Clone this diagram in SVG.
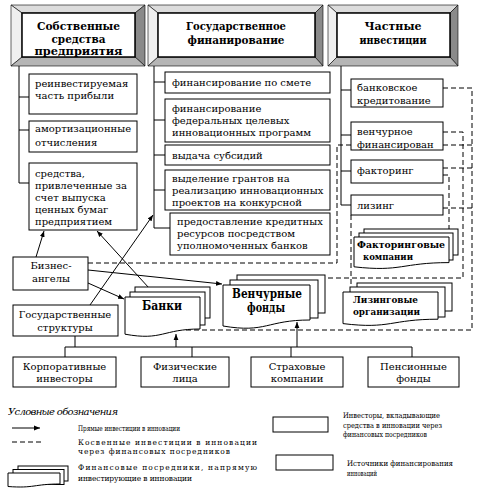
<svg xmlns="http://www.w3.org/2000/svg" width="485" height="488" viewBox="0 0 485 488">
<style>
text{font-family:"DejaVu Serif","Liberation Serif",serif;fill:#000}
.t{font-size:10px}
.h{font-size:11px;font-weight:bold;text-anchor:middle}
.b{font-size:12px;font-weight:bold}
.c{text-anchor:middle}
.lg{font-size:7.5px}
.box{fill:#fff;stroke:#000;stroke-width:1}
.ln{fill:none;stroke:#000;stroke-width:1}
.ds{fill:none;stroke:#000;stroke-width:1;stroke-dasharray:5,3}
.bt{fill:#dcdcdc;stroke:#000;stroke-width:0.6}
.bl{fill:#efefef;stroke:#000;stroke-width:0.6}
.br{fill:#8a8a8a;stroke:#000;stroke-width:0.6}
.bb{fill:#b5b5b5;stroke:#000;stroke-width:0.6}
.in{fill:#fff;stroke:#000;stroke-width:1.5}
</style>
<defs>
<marker id="arr" viewBox="0 0 10 10" refX="10" refY="5" markerWidth="6" markerHeight="6" orient="auto"><path d="M0,1 L10,5 L0,9 z" fill="#000"/></marker>
</defs>
<rect width="485" height="488" fill="#fff"/>

<!-- header frames -->
<g id="own-funds">
<polygon class="bt" points="11,5 145,5 135,13 22,13"/>
<polygon class="bl" points="11,5 22,13 22,57 11,66"/>
<polygon class="br" points="145,5 145,66 135,57 135,13"/>
<polygon class="bb" points="11,66 22,57 135,57 145,66"/>
<rect class="in" x="22" y="13" width="113" height="44"/>
<text class="h" x="78.5" y="29.5" textLength="83" lengthAdjust="spacingAndGlyphs">Собственные</text>
<text class="h" x="78.5" y="42.5" textLength="54" lengthAdjust="spacingAndGlyphs">средства</text>
<text class="h" x="78.5" y="55" textLength="88" lengthAdjust="spacingAndGlyphs">предприятия</text>
</g>
<g id="state-funding">
<polygon class="bt" points="148,5 323,5 315,13 158,13"/>
<polygon class="bl" points="148,5 158,13 158,57 148,66"/>
<polygon class="br" points="323,5 323,66 315,57 315,13"/>
<polygon class="bb" points="148,66 158,57 315,57 323,66"/>
<rect class="in" x="158" y="13" width="157" height="44"/>
<text class="h" x="236" y="29.5" textLength="100" lengthAdjust="spacingAndGlyphs">Государственное</text>
<text class="h" x="236" y="44" textLength="97" lengthAdjust="spacingAndGlyphs">финанирование</text>
</g>
<g id="private-inv">
<polygon class="bt" points="328,5 458,5 450,13 337,13"/>
<polygon class="bl" points="328,5 337,13 337,57 328,66"/>
<polygon class="br" points="458,5 458,66 450,57 450,13"/>
<polygon class="bb" points="328,66 337,57 450,57 458,66"/>
<rect class="in" x="337" y="13" width="113" height="44"/>
<text class="h" x="393" y="29.5" textLength="57" lengthAdjust="spacingAndGlyphs">Частные</text>
<text class="h" x="393" y="44" textLength="67" lengthAdjust="spacingAndGlyphs">инвестиции</text>
</g>

<!-- connectors -->
<g id="connectors">
<path class="ln" d="M19,66 V183 M19,97 H29 M19,130 H29 M19,183 H29"/>
<path class="ln" d="M154,66 V228 H170 M154,82 H165 M154,120 H165 M154,155 H165 M154,190 H165"/>
<path class="ln" d="M341,66 V205 M341,90 H351 M341,135 H351 M341,171 H351 M341,205 H351"/>
<polyline class="ds" points="443,88 472,88 472,330 183,330"/>
<polyline class="ds" points="443,132 463,132 463,278 325,278"/>
<polyline class="ds" points="351,145 337,145 337,263 88,263"/>
<polyline class="ds" points="443,145 472,145"/>
<polyline class="ds" points="443,168 472,168"/>
<polyline class="ds" points="443,175 449,175 449,229"/>
<polyline class="ds" points="443,208 472,208"/>
<polyline class="ds" points="351,215 351,287"/>
<line class="ln" x1="36" y1="257" x2="44" y2="231" marker-end="url(#arr)"/>
<line class="ln" x1="149" y1="288" x2="97" y2="231" marker-end="url(#arr)"/>
<line class="ln" x1="90" y1="305" x2="153" y2="215" marker-end="url(#arr)"/>
<line class="ln" x1="88" y1="283" x2="124" y2="299" marker-end="url(#arr)"/>
<line class="ln" x1="88" y1="270" x2="222" y2="284" marker-end="url(#arr)"/>
<path class="ln" d="M65,357 V347 H412 V357 M192,347 V357 M291,347 V357 M75,336 V347"/>
<line class="ln" x1="176" y1="347" x2="176" y2="334" marker-end="url(#arr)"/>
<line class="ln" x1="297" y1="347" x2="297" y2="322" marker-end="url(#arr)"/>
</g>

<!-- own funds items -->
<g id="reinvest">
<rect class="box" x="29" y="74" width="108" height="40"/>
<text class="t" x="35" y="87">реинвестируемая</text>
<text class="t" x="35" y="99">часть прибыли</text>
</g>
<g id="amort">
<rect class="box" x="29" y="121" width="108" height="31"/>
<text class="t" x="35" y="132">амортизационные</text>
<text class="t" x="35" y="146">отчисления</text>
</g>
<g id="securities">
<rect class="box" x="29" y="163" width="108" height="67"/>
<text class="t" x="35" y="177">средства,</text>
<text class="t" x="35" y="189">привлеченные за</text>
<text class="t" x="35" y="201">счет выпуска</text>
<text class="t" x="35" y="213">ценных бумаг</text>
<text class="t" x="35" y="225">предприятием</text>
</g>

<!-- state items -->
<g id="estimate">
<rect class="box" x="165" y="72" width="165" height="21"/>
<text class="t" x="172" y="86">финансирование по смете</text>
</g>
<g id="federal">
<rect class="box" x="165" y="99" width="165" height="43"/>
<text class="t" x="172" y="112">финансирование</text>
<text class="t" x="172" y="124">федеральных целевых</text>
<text class="t" x="172" y="136">инновационных программ</text>
</g>
<g id="subsidies">
<rect class="box" x="165" y="145" width="165" height="20"/>
<text class="t" x="172" y="159">выдача субсидий</text>
</g>
<g id="grants">
<rect class="box" x="165" y="170" width="165" height="40"/>
<text class="t" x="172" y="182">выделение грантов на</text>
<text class="t" x="172" y="194">реализацию инновационных</text>
<text class="t" x="172" y="206">проектов на конкурсной</text>
</g>
<g id="credit">
<rect class="box" x="170" y="213" width="160" height="42"/>
<text class="t" x="177" y="225">предоставление кредитных</text>
<text class="t" x="177" y="237">ресурсов посредством</text>
<text class="t" x="177" y="249">уполномоченных банков</text>
</g>

<!-- private items -->
<g id="bank-credit">
<rect class="box" x="351" y="79" width="92" height="28"/>
<text class="t" x="357" y="91">банковское</text>
<text class="t" x="357" y="104">кредитование</text>
</g>
<g id="venture-fin">
<rect class="box" x="351" y="122" width="92" height="28"/>
<text class="t" x="357" y="135">венчурное</text>
<text class="t" x="357" y="148">финансирован</text>
</g>
<g id="factoring">
<rect class="box" x="351" y="160" width="92" height="23"/>
<text class="t" x="357" y="174">факторинг</text>
</g>
<g id="leasing">
<rect class="box" x="351" y="195" width="92" height="20"/>
<text class="t" x="357" y="208.5">лизинг</text>
</g>

<!-- intermediaries -->
<g id="factoring-cos">
<rect class="box" x="364" y="229" width="94" height="26"/>
<rect class="box" x="359" y="233" width="94" height="27"/>
<path class="box" d="M354,237 H449 V262.6 C401.5,262.6 401.5,272.2 354,266.8 Z"/>
<text x="357" y="248" style="font-size:9px;font-weight:bold" textLength="88" lengthAdjust="spacingAndGlyphs">Факторинговые</text>
<text x="363" y="260" style="font-size:9px;font-weight:bold" textLength="50" lengthAdjust="spacingAndGlyphs">компании</text>
</g>
<g id="leasing-orgs">
<rect class="box" x="357" y="283" width="95" height="28"/>
<rect class="box" x="350" y="287" width="95" height="30"/>
<path class="box" d="M343,292 H438 V319.2 C390.5,319.2 390.5,329.4 343,323.6 Z"/>
<text x="353" y="303" style="font-size:10px;font-weight:bold" textLength="65" lengthAdjust="spacingAndGlyphs">Лизинговые</text>
<text x="353" y="315" style="font-size:10px;font-weight:bold" textLength="67" lengthAdjust="spacingAndGlyphs">организации</text>
</g>
<g id="banks">
<rect class="box" x="135" y="287" width="75" height="31"/>
<rect class="box" x="130" y="292" width="75" height="33"/>
<path class="box" d="M125,297 H200 V329 C162.5,329 162.5,341 125,334.2 Z"/>
<text class="b" x="142" y="310" textLength="40" lengthAdjust="spacingAndGlyphs">Банки</text>
</g>
<g id="venture-funds">
<rect class="box" x="237" y="275" width="88" height="38"/>
<rect class="box" x="230" y="280" width="88" height="38"/>
<path class="box" d="M223,285 H310 V320 C266.5,320 266.5,333.4 223,326 Z"/>
<text class="b" x="232" y="298" textLength="70" lengthAdjust="spacingAndGlyphs">Венчурные</text>
<text class="b" x="247" y="312" textLength="38" lengthAdjust="spacingAndGlyphs">фонды</text>
</g>

<!-- investors -->
<g id="business-angels">
<rect class="box" x="13" y="257" width="75" height="33"/>
<text class="t c" x="51" y="269">Бизнес-</text>
<text class="t c" x="51" y="282">ангелы</text>
</g>
<g id="state-structures">
<rect class="box" x="13" y="305" width="105" height="31"/>
<text class="t c" x="65" y="318">Государственные</text>
<text class="t c" x="65" y="331">структуры</text>
</g>
<g id="corporate">
<rect class="box" x="13" y="357" width="103" height="30"/>
<text class="t c" x="64.5" y="370">Корпоративные</text>
<text class="t c" x="64.5" y="382">инвесторы</text>
</g>
<g id="individuals">
<rect class="box" x="141" y="357" width="88" height="30"/>
<text class="t c" x="185" y="370">Физические</text>
<text class="t c" x="185" y="382">лица</text>
</g>
<g id="insurance">
<rect class="box" x="251" y="357" width="92" height="30"/>
<text class="t c" x="297" y="370">Страховые</text>
<text class="t c" x="297" y="382">компании</text>
</g>
<g id="pension">
<rect class="box" x="368" y="357" width="91" height="30"/>
<text class="t c" x="413.5" y="370">Пенсионные</text>
<text class="t c" x="413.5" y="382">фонды</text>
</g>

<!-- legend -->
<g id="legend">
<text x="8" y="415" style="font-size:10px;font-style:italic" textLength="110">Условные обозначения</text>
<line class="ln" x1="12" y1="428" x2="40" y2="428" marker-end="url(#arr)"/>
<text class="lg" x="78" y="431" textLength="102" lengthAdjust="spacingAndGlyphs">Прямые инвестиции в инновации</text>
<line class="ds" x1="12" y1="442" x2="42" y2="442"/>
<text class="lg" x="78" y="444.5" textLength="179">Косвенные инвестиции в инновации</text>
<text class="lg" x="78" y="453.5" textLength="152">через финансовых посредников</text>
<rect class="box" x="18" y="466" width="50" height="15"/>
<rect class="box" x="13" y="469.5" width="51" height="15"/>
<path class="box" d="M8,473 H60 V484 C34,484 34,488.5 8,486.5 Z"/>
<text class="lg" x="78" y="470" textLength="179">Финансовые посредники, напрямую</text>
<text class="lg" x="78" y="481" textLength="114">инвестирующие в инновации</text>
<rect class="box" x="273" y="417" width="55" height="15"/>
<text class="lg" x="343" y="418" textLength="97" lengthAdjust="spacingAndGlyphs">Инвесторы, вкладывающие</text>
<text class="lg" x="343" y="427.5" textLength="99" lengthAdjust="spacingAndGlyphs">средства  в инновации через</text>
<text class="lg" x="343" y="437" textLength="84" lengthAdjust="spacingAndGlyphs">финансовых посредников</text>
<rect class="box" x="276" y="455" width="57" height="15"/>
<text class="lg" x="347" y="466" textLength="106" lengthAdjust="spacingAndGlyphs">Источники финансирования</text>
<text class="lg" x="347" y="476" textLength="30" lengthAdjust="spacingAndGlyphs">инноваций</text>
</g>
</svg>
